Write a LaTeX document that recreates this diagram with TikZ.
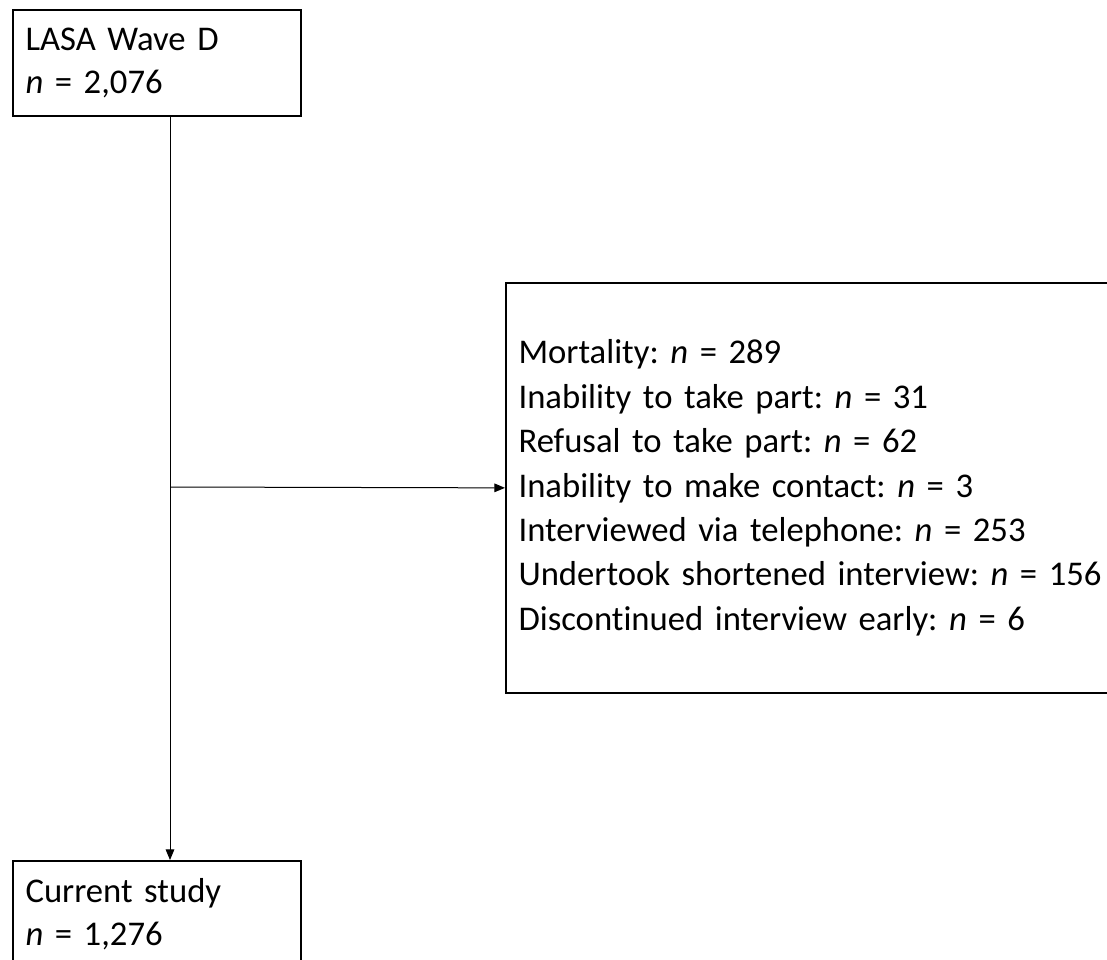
\documentclass[tikz,border=0pt]{standalone}
\usepackage{fontspec}
\setmainfont[Ligatures=NoCommon]{Carlito}
\usepackage{tikz}
\usetikzlibrary{arrows.meta}

\begin{document}
\frenchspacing
\begin{tikzpicture}[x=0.75pt, y=-0.75pt,
	box/.style={draw, line width=1.3pt, rectangle, anchor=north west, align=left, inner xsep=9.5pt, inner ysep=0pt,
	font=\fontsize{26}{33.3}\selectfont},
	small box/.style={box, minimum width=216pt, minimum height=79.5pt, text width=197pt, font=\fontsize{26}{32.5}\selectfont},
	link/.style={line width=0.75pt, -{Triangle[length=8pt,width=6.5pt]}}]
	\useasboundingbox (0,0) rectangle (1107,960);
	\clip (0,0) rectangle (1107,960);
	\node[small box, name=wave] at (12,9) {LASA Wave D\\\textit{n} = 2,076};
	\node[box, name=loss, minimum width=465pt, minimum height=307.5pt, text width=446pt] at (505,282) {Mortality: \textit{n} = 289\\Inability to take part: \textit{n} = 31\\Refusal to take part: \textit{n} = 62\\Inability to make contact: \textit{n} = 3\\Interviewed via telephone: \textit{n} = 253\\Undertook shortened interview: \textit{n} = 156\\Discontinued interview early: \textit{n} = 6};
	\node[small box, name=study] at (12,860) {Current study\\\textit{n} = 1,276};
%	\coordinate (split) at (156,487);
	\coordinate (split) at (170,487);
	\draw[link] (wave.south -| split) -- (study.north -| split);
	\draw[link] (split) -- (loss.west);
\end{tikzpicture}
\end{document}
